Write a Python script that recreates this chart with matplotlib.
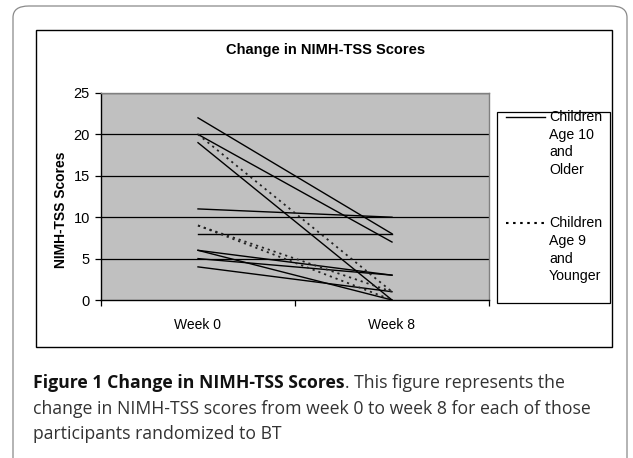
import matplotlib
matplotlib.use("Agg")
import matplotlib.pyplot as plt
from matplotlib.patches import Rectangle, FancyBboxPatch
from matplotlib.lines import Line2D

# ---- data ----
weeks = ["Week 0", "Week 8"]
older_week0 = [22, 20, 19, 11, 8, 6, 6, 5, 4]
older_week8 = [8, 7, 0, 10, 8, 3, 0, 3, 1]
younger_week0 = [20, 9, 9]
younger_week8 = [1, 1, 0]
yticks = [0, 5, 10, 15, 20, 25]
title = "Change in NIMH-TSS Scores"
ylabel = "NIMH-TSS Scores"
legend_older = ["Children", "Age 10", "and", "Older"]
legend_younger = ["Children", "Age 9", "and", "Younger"]
caption_bold = "Figure 1 Change in NIMH-TSS Scores"
caption_lines = [". This figure represents the",
                 "change in NIMH-TSS scores from week 0 to week 8 for each of those",
                 "participants randomized to BT"]

W, H = 633, 458
fig = plt.figure(figsize=(W / 100, H / 100), dpi=100)
plt.rcParams['font.family'] = ['Liberation Sans', 'DejaVu Sans']

def fx(x):
    return x / W

def fy(y):
    return 1 - y / H

# outer rounded frame
fig.patches.append(FancyBboxPatch((fx(13), fy(475)), fx(627) - fx(13), fy(6) - fy(475),
                                  boxstyle="round,pad=0,rounding_size=0.025",
                                  transform=fig.transFigure, fill=False,
                                  edgecolor="#8a8a8a", linewidth=0.9))
# chart frame
fig.patches.append(Rectangle((fx(36), fy(347)), fx(612) - fx(36), fy(30) - fy(347),
                             transform=fig.transFigure, fill=False,
                             edgecolor="black", linewidth=1.0))

# plot area
left, right, top, bottom = 101, 489, 93, 300
ax = fig.add_axes([fx(left), fy(bottom), fx(right) - fx(left), fy(top) - fy(bottom)])
ax.set_facecolor("#c0c0c0")
ax.set_xlim(-0.5, 1.5)
ax.set_ylim(0, 25)

for y in yticks[1:]:
    ax.axhline(y, color="black", linewidth=0.9, zorder=1)

xs = [0, 1]
for a, b in zip(older_week0, older_week8):
    ax.plot(xs, [a, b], color="black", linewidth=1.0, zorder=3)
for a, b in zip(younger_week0, younger_week8):
    ax.plot(xs, [a, b], color="#222222", linewidth=1.3, linestyle=(0, (1.2, 2.2)), zorder=3)

ax.set_yticks(yticks)
ax.set_yticklabels([str(v) for v in yticks], fontsize=10.5)
ax.set_xticks(xs)
ax.set_xticklabels(weeks, fontsize=10)
ax.set_xticks([-0.5, 0.5, 1.5], minor=True)
ax.tick_params(axis="x", which="major", length=0, pad=13)
ax.tick_params(axis="x", which="minor", length=4, direction="out", width=0.9)
ax.tick_params(axis="y", length=4, direction="out", width=0.9, pad=4)
for s in ["top", "right"]:
    ax.spines[s].set_color("#808080")
    ax.spines[s].set_linewidth(1.0)
for s in ["left", "bottom"]:
    ax.spines[s].set_color("black")
    ax.spines[s].set_linewidth(1.0)

fig.text(fx(61), fy(210), ylabel, rotation=90, ha="center", va="center",
         fontsize=10, fontweight="bold")
fig.text(fx(326), fy(50), title, ha="center", va="center",
         fontsize=10.5, fontweight="bold")

# legend
fig.patches.append(Rectangle((fx(497), fy(303)), fx(610) - fx(497), fy(112) - fy(303),
                             transform=fig.transFigure, fill=False,
                             edgecolor="black", linewidth=0.9))
fig.lines.append(Line2D([fx(506), fx(545)], [fy(117), fy(117)], transform=fig.transFigure,
                        color="black", linewidth=1.0))
fig.lines.append(Line2D([fx(506), fx(545)], [fy(223), fy(223)], transform=fig.transFigure,
                        color="black", linewidth=1.5, linestyle=(0, (1.2, 2.2))))
for i, t in enumerate(legend_older):
    fig.text(fx(549), fy(117 + i * 17.5), t, ha="left", va="center", fontsize=10.2)
for i, t in enumerate(legend_younger):
    fig.text(fx(549), fy(223 + i * 17.8), t, ha="left", va="center", fontsize=10.2)

# caption
cap_font = ['Open Sans', 'DejaVu Sans']
cap_size = 12.7
t1 = fig.text(fx(33), fy(383), caption_bold, ha="left", va="center",
              fontsize=cap_size, fontweight="bold", family=cap_font, color="#111111")
fig.canvas.draw()
bb = t1.get_window_extent()
fig.text(bb.x1 / W, fy(383), caption_lines[0], ha="left", va="center",
         fontsize=cap_size, family=cap_font, color="#333333")
fig.text(fx(33), fy(409), caption_lines[1], ha="left", va="center",
         fontsize=cap_size, family=cap_font, color="#333333")
fig.text(fx(33), fy(434), caption_lines[2], ha="left", va="center",
         fontsize=cap_size, family=cap_font, color="#333333")

fig.savefig("out.png", dpi=100)
